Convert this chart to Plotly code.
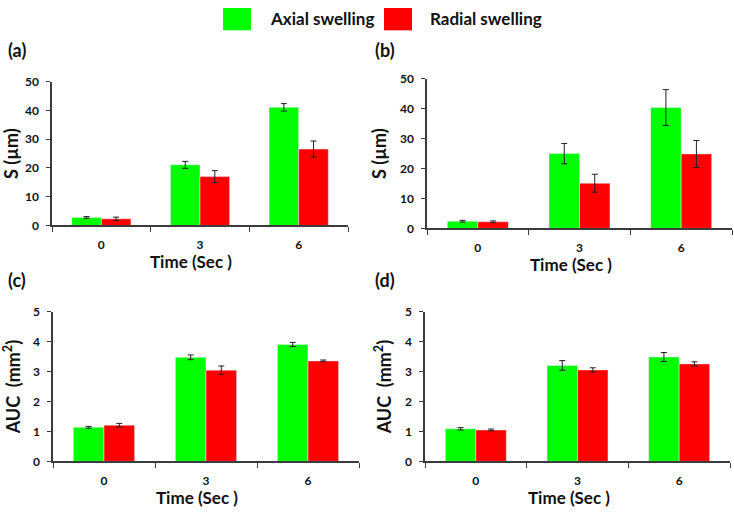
import plotly.graph_objects as go

times = ['0', '3', '6']

# (a) S (um)
a_axial = [2.8, 21.1, 41.1]
a_axial_err = [0.3, 1.2, 1.3]
a_radial = [2.3, 17.0, 26.6]
a_radial_err = [0.6, 2.1, 2.8]

# (b) S (um)
b_axial = [2.4, 25.0, 40.4]
b_axial_err = [0.3, 3.4, 6.0]
b_radial = [2.2, 15.1, 24.9]
b_radial_err = [0.3, 3.0, 4.5]

# (c) AUC (mm2)
c_axial = [1.14, 3.48, 3.91]
c_axial_err = [0.03, 0.08, 0.07]
c_radial = [1.21, 3.05, 3.36]
c_radial_err = [0.06, 0.14, 0.03]

# (d) AUC (mm2)
d_axial = [1.09, 3.21, 3.49]
d_axial_err = [0.04, 0.16, 0.15]
d_radial = [1.05, 3.06, 3.26]
d_radial_err = [0.03, 0.07, 0.07]

W, H = 734, 514
FONT = 'Lato, Open Sans, sans-serif'
GREEN = '#00ff00'
RED = '#ff0000'
AXIS = '#3c3c3c'

def px_x(x):
    return x / W

def px_y(y):
    return 1 - y / H

def label(text, x, y, size, xanchor='center'):
    return dict(text=text, x=px_x(x), y=px_y(y), xref='paper', yref='paper',
                xanchor=xanchor, yanchor='middle', showarrow=False,
                font=dict(family=FONT, size=size, color='#111', weight='bold'))

panels = [
    # label, axial, axial err, radial, radial err, x px, y px, yrange, dtick, ytitle
    ('(a)', a_axial, a_axial_err, a_radial, a_radial_err, (52, 348), (76, 224), 50, 10, 'S (µm)'),
    ('(b)', b_axial, b_axial_err, b_radial, b_radial_err, (427, 732), (73, 227), 50, 10, 'S (µm)'),
    ('(c)', c_axial, c_axial_err, c_radial, c_radial_err, (53, 359), (313, 467), 5, 1, 'AUC  (mm<sup>2</sup>)'),
    ('(d)', d_axial, d_axial_err, d_radial, d_radial_err, (425, 730), (313, 467), 5, 1, 'AUC  (mm<sup>2</sup>)'),
]

fig = go.Figure()
annotations = []
layout = {}

for i, (lab, ax_v, ax_e, rad_v, rad_e, xr, yr, ymax, dt, ytitle) in enumerate(panels):
    n = '' if i == 0 else str(i + 1)
    xa, ya = 'x' + n, 'y' + n
    fig.add_trace(go.Bar(
        x=times, y=ax_v, name='Axial swelling', marker_color=GREEN,
        error_y=dict(type='data', array=ax_e, color='#222', thickness=1, width=3),
        xaxis=xa, yaxis=ya, showlegend=False, offsetgroup='axial'))
    fig.add_trace(go.Bar(
        x=times, y=rad_v, name='Radial swelling', marker_color=RED,
        error_y=dict(type='data', array=rad_e, color='#222', thickness=1, width=3),
        xaxis=xa, yaxis=ya, showlegend=False, offsetgroup='radial'))

    layout['xaxis' + n] = dict(
        domain=[px_x(xr[0]), px_x(xr[1])], anchor=ya, type='category',
        range=[-0.5, 2.5], showline=True, linecolor=AXIS, linewidth=1.5,
        ticks='outside', tickson='boundaries', ticklen=5, tickcolor=AXIS,
        showgrid=False, zeroline=False, ticklabelstandoff=7,
        tickfont=dict(family=FONT, size=12, color='#111', weight='bold'))
    layout['yaxis' + n] = dict(
        domain=[px_y(yr[1]), px_y(yr[0])], anchor=xa,
        range=[0, ymax], dtick=dt, showline=True, linecolor=AXIS, linewidth=1.5,
        ticks='outside', ticklen=4, tickcolor=AXIS, showgrid=False, zeroline=False,
        ticklabelstandoff=5,
        tickfont=dict(family=FONT, size=12, color='#111', weight='bold'),
        title=dict(text=ytitle, standoff=9,
                   font=dict(family=FONT, size=18, color='#111', weight='bold')))

    # panel label
    lx = 17 if i % 2 == 0 else 385
    ly = 43 if i < 2 else 280
    annotations.append(label(lab, lx, ly, 18))
    # x title
    annotations.append(label('Time (Sec )', (xr[0] + xr[1]) / 2 - 9, yr[1] + 37, 17))

# legend drawn by hand
shapes = [
    dict(type='rect', xref='paper', yref='paper', x0=px_x(223), x1=px_x(251),
         y0=px_y(23), y1=px_y(0), fillcolor=GREEN, line=dict(width=0)),
    dict(type='rect', xref='paper', yref='paper', x0=px_x(384), x1=px_x(412),
         y0=px_y(23), y1=px_y(0), fillcolor=RED, line=dict(width=0)),
]
annotations.append(label('Axial swelling', 268, 11, 17, 'left'))
annotations.append(label('Radial swelling', 428, 11, 17, 'left'))

fig.update_layout(
    width=W, height=H, margin=dict(l=0, r=0, t=0, b=0),
    plot_bgcolor='white', paper_bgcolor='white',
    barmode='group', bargap=0.4, bargroupgap=0,
    annotations=annotations, shapes=shapes, **layout)

# page body has a default margin; drop it so the figure fills the window
fig.write_html('out.html', config={'displayModeBar': False},
               post_script="document.body.style.margin='0';")
